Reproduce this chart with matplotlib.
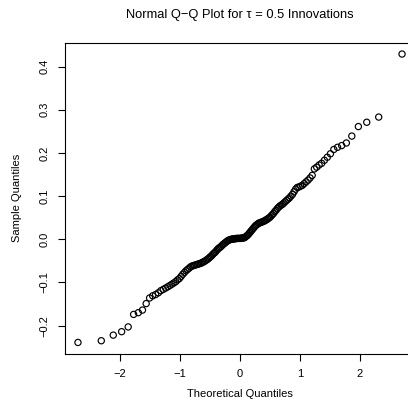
import numpy as np
import matplotlib
matplotlib.use("Agg")
import matplotlib.pyplot as plt
from statistics import NormalDist

plt.rcParams["font.family"] = ["Liberation Sans", "DejaVu Sans"]

# SORTED SAMPLE
sample = [
    -0.239, -0.235, -0.222, -0.214, -0.203, -0.174, -0.170, -0.164, -0.149, -0.136,
    -0.131, -0.128, -0.124, -0.119, -0.116, -0.113, -0.110, -0.107, -0.104, -0.101,
    -0.098, -0.094, -0.091, -0.086, -0.081, -0.077, -0.073, -0.070, -0.067, -0.064,
    -0.062, -0.061, -0.060, -0.059, -0.058, -0.057, -0.056, -0.055, -0.053, -0.052,
    -0.050, -0.048, -0.046, -0.044, -0.041, -0.039, -0.036, -0.033, -0.031, -0.028,
    -0.025, -0.022, -0.020, -0.018, -0.016, -0.013, -0.011, -0.009, -0.007, -0.005,
    -0.003, -0.002, -0.001, 0.000, 0.000, 0.001, 0.001, 0.001, 0.002, 0.002,
    0.002, 0.002, 0.002, 0.003, 0.003, 0.003, 0.004, 0.006, 0.008, 0.010,
    0.013, 0.016, 0.019, 0.022, 0.025, 0.028, 0.031, 0.033, 0.035, 0.037,
    0.038, 0.039, 0.040, 0.041, 0.042, 0.044, 0.045, 0.047, 0.049, 0.051,
    0.054, 0.057, 0.060, 0.064, 0.067, 0.071, 0.074, 0.077, 0.079, 0.081,
    0.084, 0.087, 0.090, 0.093, 0.096, 0.100, 0.104, 0.110, 0.116, 0.120,
    0.121, 0.123, 0.125, 0.129, 0.133, 0.137, 0.142, 0.148, 0.163, 0.167,
    0.172, 0.176, 0.183, 0.190, 0.198, 0.208, 0.213, 0.217, 0.223, 0.239,
    0.261, 0.271, 0.283, 0.429,
]

x_ticks = [-2, -1, 0, 1, 2]
y_ticks = [-0.2, -0.1, 0.0, 0.1, 0.2, 0.3, 0.4]

title = "Normal Q\u2212Q Plot for \u03c4 = 0.5 Innovations"

# THEORETICAL QUANTILES (like R ppoints / qqnorm)
n = len(sample)
probs = [(i + 0.5) / n for i in range(n)]
theo = np.array([NormalDist().inv_cdf(p) for p in probs])
y = np.array(sample)

fig = plt.figure(figsize=(4.08, 4.07), dpi=100)
ax = fig.add_axes([65 / 408, 53 / 407, 350 / 408, 311.5 / 407])

ax.scatter(theo, y, s=20, facecolors="none", edgecolors="black", linewidths=0.85)

# R-style 4% padding
xr = theo.max() - theo.min()
yr = y.max() - y.min()
ax.set_xlim(theo.min() - 0.04 * xr, theo.max() + 0.04 * xr)
ax.set_ylim(y.min() - 0.04 * yr, y.max() + 0.04 * yr)

ax.set_xticks(x_ticks)
ax.set_xticklabels([f"{t:g}".replace("-", "\u2212") for t in x_ticks])
ax.set_yticks(y_ticks)
ax.set_yticklabels([f"{t:.1f}".replace("-", "\u2212") for t in y_ticks],
                   rotation=90, va="center")

ax.tick_params(direction="out", length=5, width=0.8, labelsize=8, pad=6,
               colors="black")
for sp in ax.spines.values():
    sp.set_linewidth(0.8)

fig.text(240 / 408, 1 - 15 / 407, title, ha="center", va="center", fontsize=9.3)
fig.text(240 / 408, 1 - 394 / 407, "Theoretical Quantiles", ha="center",
         va="center", fontsize=8)
fig.text(17 / 408, 1 - 198 / 407, "Sample Quantiles", ha="center",
         va="center", rotation=90, fontsize=8)

fig.savefig("out.png", dpi=100)
